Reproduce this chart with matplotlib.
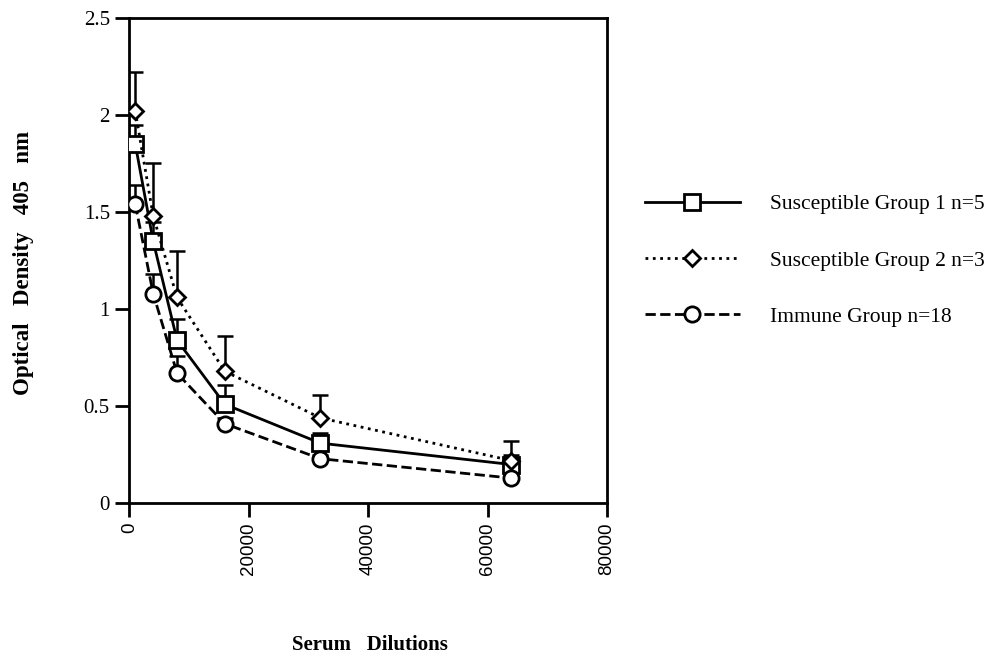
import numpy as np
import matplotlib
matplotlib.use("Agg")
import matplotlib.pyplot as plt

# diluições do soro
diluicoes = [1000, 4000, 8000, 16000, 32000, 64000]

grupo1 = [1.85, 1.35, 0.84, 0.51, 0.31, 0.20]
grupo1_err = [0.10, 0.10, 0.11, 0.10, 0.05, 0.05]

grupo2 = [2.02, 1.48, 1.06, 0.68, 0.44, 0.22]
grupo2_err = [0.20, 0.27, 0.24, 0.18, 0.12, 0.10]

imune = [1.54, 1.08, 0.67, 0.41, 0.23, 0.13]
imune_err = [0.10, 0.10, 0.09, 0.03, 0.02, 0.02]

rotulos = ["Susceptible Group 1 n=5", "Susceptible Group 2 n=3", "Immune Group n=18"]

plt.rcParams['font.family'] = ['Liberation Serif', 'DejaVu Serif']

fig = plt.figure(figsize=(9.87, 6.58), dpi=100)
ax = fig.add_axes([0.131, 0.235, 0.484, 0.738])

series = [
    (grupo1, grupo1_err, '-', 's', 11, rotulos[0]),
    (grupo2, grupo2_err, ':', 'D', 8, rotulos[1]),
    (imune, imune_err, '--', 'o', 11, rotulos[2]),
]

handles = []
for valores, erros, estilo, marcador, tam, rotulo in series:
    ax.errorbar(diluicoes, valores, yerr=[np.zeros(len(erros)), erros],
                fmt='none', ecolor='black', elinewidth=1.8, capsize=6,
                capthick=1.8, zorder=2)
    h, = ax.plot(diluicoes, valores, linestyle=estilo, color='black', lw=2,
                 marker=marcador, markersize=tam, markerfacecolor='white',
                 markeredgecolor='black', markeredgewidth=2, label=rotulo,
                 zorder=3)
    handles.append(h)

ax.set_xlim(0, 80000)
ax.set_ylim(0, 2.5)
ax.set_xticks([0, 20000, 40000, 60000, 80000])
ax.set_yticks([0, 0.5, 1, 1.5, 2, 2.5])
ax.set_yticklabels(["0", "0.5", "1", "1.5", "2", "2.5"], fontsize=15)
ax.set_xticklabels(["0", "20000", "40000", "60000", "80000"], rotation=90,
                   fontsize=13.5, family=['Liberation Sans', 'DejaVu Sans'])
ax.tick_params(direction='out', length=10, width=2, pad=4)
for s in ax.spines.values():
    s.set_linewidth(2)

# rótulos dos eixos
fig.text(0.375, 0.004, "Serum   Dilutions", fontsize=15, fontweight='bold',
         ha='center', va='bottom')
fig.text(0.024, 0.60, "Optical   Density   405   nm", fontsize=16.5,
         fontweight='bold', rotation=90, ha='center', va='center')

fig.legend(handles=handles, labels=rotulos, loc='center left',
           bbox_to_anchor=(0.634, 0.604), frameon=False, fontsize=15.5,
           handlelength=4.4, handletextpad=1.4, labelspacing=1.68)

fig.savefig("out.png", dpi=100)
